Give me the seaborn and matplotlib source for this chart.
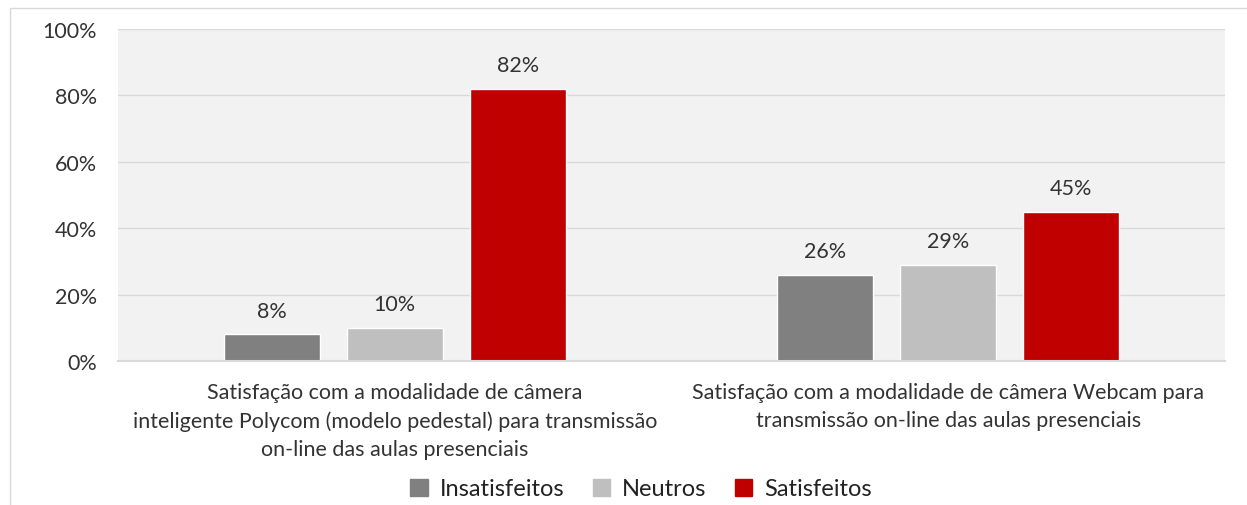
import pandas as pd
import matplotlib.pyplot as plt
import seaborn as sns
from matplotlib.patches import Rectangle, Patch
from matplotlib.ticker import PercentFormatter

# data ------------------------------------------------------------------------
categorias = [
    "Satisfação com a modalidade de câmera\ninteligente Polycom (modelo pedestal) para transmissão\non-line das aulas presenciais",
    "Satisfação com a modalidade de câmera Webcam para\ntransmissão on-line das aulas presenciais",
]
grupos = ["Insatisfeitos", "Neutros", "Satisfeitos"]
insatisfeitos = [8, 26]
neutros = [10, 29]
satisfeitos = [82, 45]
cores = ["#808080", "#BFBFBF", "#C00000"]

rows = []
for i, cat in enumerate(categorias):
    rows.append((cat, grupos[0], insatisfeitos[i]))
    rows.append((cat, grupos[1], neutros[i]))
    rows.append((cat, grupos[2], satisfeitos[i]))
df = pd.DataFrame(rows, columns=["categoria", "grupo", "valor"])

# plot ------------------------------------------------------------------------
sns.set_style("white")
plt.rcParams["font.family"] = ["Lato", "DejaVu Sans"]

W, H = 1247, 506
fig = plt.figure(figsize=(W / 100, H / 100), dpi=100)
ax = fig.add_axes([118 / W, 1 - 362 / H, 1107 / W, 332 / H])
ax.set_facecolor("#F2F2F2")

sns.barplot(data=df, x="categoria", y="valor", hue="grupo",
            hue_order=grupos, palette=cores, width=0.667, gap=0.22,
            saturation=1, legend=False, ax=ax)

for cont in ax.containers:
    ax.bar_label(cont, fmt="%d%%", padding=10, fontsize=15.5, color="#333333")

ax.set_ylim(0, 100)
ax.set_xlim(-0.5, 1.5)
ax.set_yticks([0, 20, 40, 60, 80, 100])
ax.yaxis.set_major_formatter(PercentFormatter(decimals=0))
ax.tick_params(axis="y", labelsize=15.5, labelcolor="#333333", length=0, pad=15)
ax.tick_params(axis="x", labelsize=15.5, labelcolor="#333333", length=0, pad=15)
ax.set_xlabel("")
ax.set_ylabel("")
for lbl in ax.get_xticklabels():
    lbl.set_linespacing(1.5)
    lbl.set_ha("center")

ax.grid(axis="y", color="#D9D9D9", linewidth=1)
ax.set_axisbelow(True)
for s in ["left", "right", "top"]:
    ax.spines[s].set_visible(False)
ax.spines["bottom"].set_color("#D9D9D9")
ax.spines["bottom"].set_linewidth(1.5)

# outer border of the chart area (cropped at right and bottom)
fig.add_artist(Rectangle((10 / W, -0.1), 1.2, 1 - 9 / H + 0.1,
                         transform=fig.transFigure, fill=False,
                         edgecolor="#D9D9D9", linewidth=1))

handles = [Patch(color=c, label=g) for c, g in zip(cores, grupos)]
fig.legend(handles=handles, loc="center", bbox_to_anchor=(641 / W, 1 - 490 / H),
           ncol=3, frameon=False, fontsize=17, handlelength=0.75,
           handleheight=0.75, handletextpad=0.5, columnspacing=1.2,
           labelcolor="#222222")

fig.savefig("out.png", dpi=100)
